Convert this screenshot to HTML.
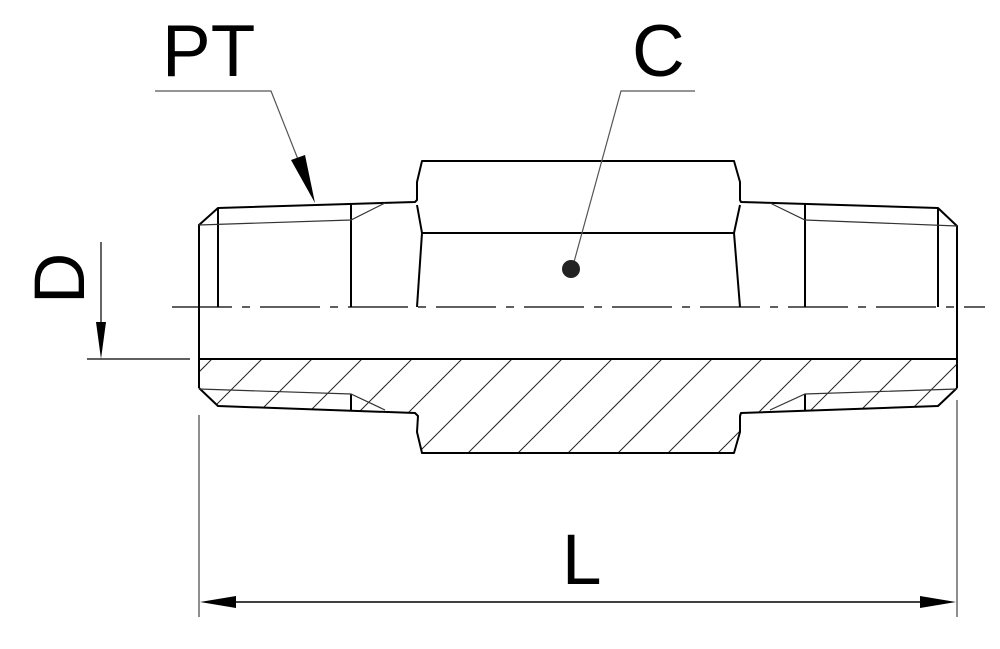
<!DOCTYPE html>
<html><head><meta charset="utf-8"><style>
html,body{margin:0;padding:0;background:#fff;}
svg{display:block;}
text{font-family:"Liberation Sans",sans-serif;fill:#000;}
</style></head><body>
<svg width="1000" height="649" viewBox="0 0 1000 649" xmlns="http://www.w3.org/2000/svg">
<defs>
<clipPath id="sec">
<polygon points="199,359 957,359 957,388 938,406 741,413 740,432 734,453 422,453 417,432 418,416 415,413 218,406 199,388"/>
</clipPath>
</defs>
<!-- hatching -->
<g clip-path="url(#sec)" stroke="#222" stroke-width="1" fill="none">
<line x1="112" y1="459" x2="212" y2="359"/>
<line x1="162" y1="459" x2="262" y2="359"/>
<line x1="212" y1="459" x2="312" y2="359"/>
<line x1="262" y1="459" x2="362" y2="359"/>
<line x1="312" y1="459" x2="412" y2="359"/>
<line x1="362" y1="459" x2="462" y2="359"/>
<line x1="412" y1="459" x2="512" y2="359"/>
<line x1="462" y1="459" x2="562" y2="359"/>
<line x1="512" y1="459" x2="612" y2="359"/>
<line x1="562" y1="459" x2="662" y2="359"/>
<line x1="612" y1="459" x2="712" y2="359"/>
<line x1="662" y1="459" x2="762" y2="359"/>
<line x1="712" y1="459" x2="812" y2="359"/>
<line x1="762" y1="459" x2="862" y2="359"/>
<line x1="812" y1="459" x2="912" y2="359"/>
<line x1="862" y1="459" x2="962" y2="359"/>
<line x1="912" y1="459" x2="1012" y2="359"/>
</g>
<!-- main outline -->
<g stroke="#000" stroke-width="2" fill="none" stroke-linejoin="round">
<!-- top outer contour -->
<polyline points="199,388 199,225 218,208 415,202 417,200 417,182 422,161 734,161 740,182 740,200 741,202 938,208 957,226 957,388"/>
<!-- bottom outer contour -->
<polyline points="199,388 218,406 415,413 418,416 417,432 422,453 734,453 740,432 740,416 741,413 938,406 957,388"/>
<!-- bore -->
<line x1="199" y1="359" x2="957" y2="359"/>
<!-- vertical lines in top half -->
<line x1="218" y1="208" x2="218" y2="307"/>
<line x1="351" y1="203" x2="351" y2="307"/>
<line x1="805" y1="204" x2="805" y2="307"/>
<line x1="938" y1="208" x2="938" y2="307"/>
<!-- hex middle -->
<polyline points="417,205 422,233 734,233 740,205"/>
<line x1="422" y1="233" x2="417" y2="307"/>
<line x1="734" y1="233" x2="740" y2="307"/>
<!-- bottom thread ends -->
<line x1="351" y1="394" x2="351" y2="410"/>
<line x1="805" y1="394" x2="805" y2="410"/>
</g>
<!-- thin thread lines -->
<g stroke="#333" stroke-width="1.2" fill="none">
<polyline points="199,225 351,220 385,203"/>
<polyline points="957,226 805,220 770,203"/>
<polyline points="199,389 351,394 385,410"/>
<polyline points="957,389 805,394 770,410"/>
</g>
<!-- centerline -->
<line x1="172" y1="307" x2="985" y2="307" stroke="#000" stroke-width="1.2" stroke-dasharray="60,10,8,10"/>
<!-- dimension L -->
<g stroke="#444" stroke-width="1.2">
<line x1="199" y1="415" x2="199" y2="617"/>
<line x1="957" y1="400" x2="957" y2="617"/>
</g>
<line x1="210" y1="602" x2="945" y2="602" stroke="#000" stroke-width="1.5"/>
<polygon points="200,602 236,596 236,608" fill="#000"/>
<polygon points="956,602 920,596 920,608" fill="#000"/>
<text x="562" y="584" font-size="71">L</text>
<!-- dimension D -->
<line x1="87" y1="359" x2="190" y2="359" stroke="#000" stroke-width="1.2"/>
<line x1="101" y1="242" x2="101" y2="330" stroke="#000" stroke-width="1.2"/>
<polygon points="101,359 96,322 106,322" fill="#000"/>
<text transform="translate(84,304) rotate(-90)" font-size="71">D</text>
<!-- PT leader -->
<text x="162" y="76" font-size="73">PT</text>
<polyline points="155,91 271,91 303,172" stroke="#555" stroke-width="1.2" fill="none"/>
<polygon points="315,203 291,160 305,155" fill="#000"/>
<!-- C leader -->
<text x="632" y="76" font-size="73">C</text>
<polyline points="695,91 621,91 574,262" stroke="#555" stroke-width="1.2" fill="none"/>
<ellipse cx="571" cy="269" rx="9" ry="9" fill="#222"/>
</svg>
</body></html>
